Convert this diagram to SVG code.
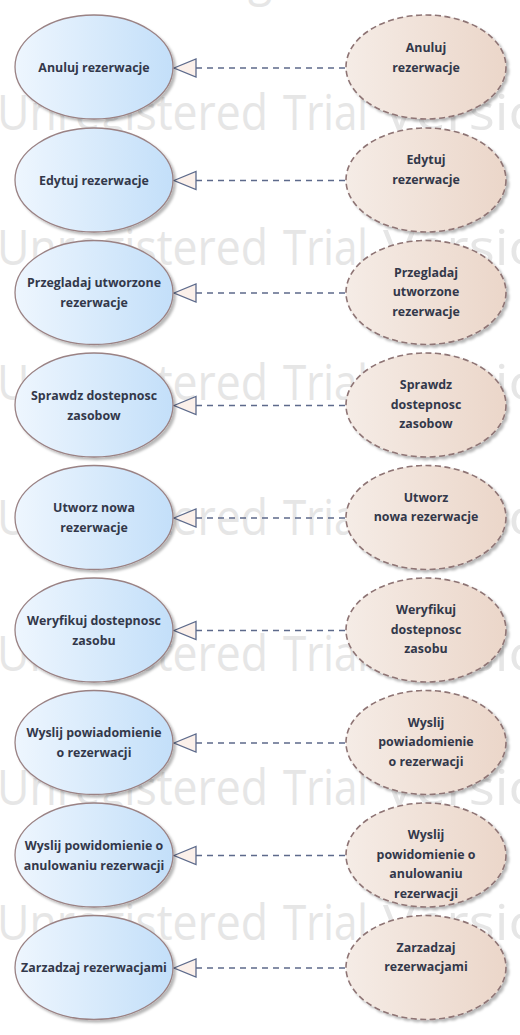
<svg xmlns="http://www.w3.org/2000/svg" width="520" height="1035" viewBox="0 0 520 1035">
<defs>
<linearGradient id="gBlue" x1="0" y1="0" x2="1" y2="0">
<stop offset="0" stop-color="#eef6fe"/>
<stop offset="1" stop-color="#c3dff9"/>
</linearGradient>
<linearGradient id="gTan" x1="0" y1="0" x2="1" y2="0">
<stop offset="0" stop-color="#f5ece6"/>
<stop offset="1" stop-color="#ebd6c9"/>
</linearGradient>
<filter id="sh" x="-10%" y="-10%" width="125%" height="130%">
<feDropShadow dx="2.5" dy="2.5" stdDeviation="1.2" flood-color="#000" flood-opacity="0.28"/>
</filter>
<style>
.wm{font-family:"Open Sans","Liberation Sans",sans-serif;font-size:50px;fill:#e6e6e6}
.uc{fill:url(#gBlue);stroke:#9a8284;stroke-width:1.3;filter:url(#sh)}
.ur{fill:url(#gTan);stroke:#8e7474;stroke-width:1.6;stroke-dasharray:6 3.5;filter:url(#sh)}
.t{font-family:"Open Sans","Liberation Sans",sans-serif;font-size:12.4px;font-weight:700;fill:#33384a;text-anchor:middle}
.ln{stroke:#5d6a8b;stroke-width:1.3;stroke-dasharray:6 5;fill:none}
.ah{fill:#fbf0ea;stroke:#5d6a8b;stroke-width:1.3;stroke-linejoin:miter}
</style>
</defs>
<g id="watermark">
<text class="wm" x="145" y="-5" textLength="271" lengthAdjust="spacingAndGlyphs">Unregistered</text>
<text class="wm" x="-3" y="130" textLength="271" lengthAdjust="spacingAndGlyphs">Unregistered</text><text class="wm" x="283" y="130" textLength="85" lengthAdjust="spacingAndGlyphs">Trial</text><text class="wm" x="383" y="130" textLength="192" lengthAdjust="spacingAndGlyphs">Version</text>
<text class="wm" x="-3" y="265" textLength="271" lengthAdjust="spacingAndGlyphs">Unregistered</text><text class="wm" x="283" y="265" textLength="85" lengthAdjust="spacingAndGlyphs">Trial</text><text class="wm" x="383" y="265" textLength="192" lengthAdjust="spacingAndGlyphs">Version</text>
<text class="wm" x="-3" y="400" textLength="271" lengthAdjust="spacingAndGlyphs">Unregistered</text><text class="wm" x="283" y="400" textLength="85" lengthAdjust="spacingAndGlyphs">Trial</text><text class="wm" x="383" y="400" textLength="192" lengthAdjust="spacingAndGlyphs">Version</text>
<text class="wm" x="-3" y="535" textLength="271" lengthAdjust="spacingAndGlyphs">Unregistered</text><text class="wm" x="283" y="535" textLength="85" lengthAdjust="spacingAndGlyphs">Trial</text><text class="wm" x="383" y="535" textLength="192" lengthAdjust="spacingAndGlyphs">Version</text>
<text class="wm" x="-3" y="671" textLength="271" lengthAdjust="spacingAndGlyphs">Unregistered</text><text class="wm" x="283" y="671" textLength="85" lengthAdjust="spacingAndGlyphs">Trial</text><text class="wm" x="383" y="671" textLength="192" lengthAdjust="spacingAndGlyphs">Version</text>
<text class="wm" x="-3" y="805" textLength="271" lengthAdjust="spacingAndGlyphs">Unregistered</text><text class="wm" x="283" y="805" textLength="85" lengthAdjust="spacingAndGlyphs">Trial</text><text class="wm" x="383" y="805" textLength="192" lengthAdjust="spacingAndGlyphs">Version</text>
<text class="wm" x="-3" y="940" textLength="271" lengthAdjust="spacingAndGlyphs">Unregistered</text><text class="wm" x="283" y="940" textLength="85" lengthAdjust="spacingAndGlyphs">Trial</text><text class="wm" x="383" y="940" textLength="192" lengthAdjust="spacingAndGlyphs">Version</text>
</g>
<g id="connectors">
<line class="ln" x1="196" y1="68" x2="347" y2="68"/><polygon class="ah" points="174,68 196,59 196,77"/>
<line class="ln" x1="196" y1="180.5" x2="347" y2="180.5"/><polygon class="ah" points="174,180.5 196,171.5 196,189.5"/>
<line class="ln" x1="196" y1="293" x2="347" y2="293"/><polygon class="ah" points="174,293 196,284 196,302"/>
<line class="ln" x1="196" y1="405.5" x2="347" y2="405.5"/><polygon class="ah" points="174,405.5 196,396.5 196,414.5"/>
<line class="ln" x1="196" y1="518" x2="347" y2="518"/><polygon class="ah" points="174,518 196,509 196,527"/>
<line class="ln" x1="196" y1="630.5" x2="347" y2="630.5"/><polygon class="ah" points="174,630.5 196,621.5 196,639.5"/>
<line class="ln" x1="196" y1="743" x2="347" y2="743"/><polygon class="ah" points="174,743 196,734 196,752"/>
<line class="ln" x1="196" y1="855.5" x2="347" y2="855.5"/><polygon class="ah" points="174,855.5 196,846.5 196,864.5"/>
<line class="ln" x1="196" y1="968" x2="347" y2="968"/><polygon class="ah" points="174,968 196,959 196,977"/>
</g>
<g id="uc1"><ellipse class="uc" cx="94" cy="67" rx="79" ry="52"/><text class="t" x="94" y="72">Anuluj rezerwacje</text></g>
<g id="uc2"><ellipse class="uc" cx="94" cy="180" rx="79" ry="52"/><text class="t" x="94" y="184.5">Edytuj rezerwacje</text></g>
<g id="uc3"><ellipse class="uc" cx="94" cy="292.5" rx="79" ry="52"/><text class="t" x="94" y="287">Przegladaj utworzone</text><text class="t" x="94" y="307">rezerwacje</text></g>
<g id="uc4"><ellipse class="uc" cx="94" cy="405" rx="79" ry="52"/><text class="t" x="94" y="399.5">Sprawdz dostepnosc</text><text class="t" x="94" y="419.5">zasobow</text></g>
<g id="uc5"><ellipse class="uc" cx="94" cy="517.5" rx="79" ry="52"/><text class="t" x="94" y="512">Utworz nowa</text><text class="t" x="94" y="532">rezerwacje</text></g>
<g id="uc6"><ellipse class="uc" cx="94" cy="630" rx="79" ry="52"/><text class="t" x="94" y="624.5">Weryfikuj dostepnosc</text><text class="t" x="94" y="644.5">zasobu</text></g>
<g id="uc7"><ellipse class="uc" cx="94" cy="742.5" rx="79" ry="52"/><text class="t" x="94" y="737">Wyslij powiadomienie</text><text class="t" x="94" y="757">o rezerwacji</text></g>
<g id="uc8"><ellipse class="uc" cx="94" cy="855" rx="79" ry="52"/><text class="t" x="94" y="849.5">Wyslij powidomienie o</text><text class="t" x="94" y="869.5">anulowaniu rezerwacji</text></g>
<g id="uc9"><ellipse class="uc" cx="94" cy="967.5" rx="79" ry="52"/><text class="t" x="94" y="972">Zarzadzaj rezerwacjami</text></g>
<g id="r1"><ellipse class="ur" cx="426" cy="67" rx="80" ry="52"/><text class="t" x="426" y="51.5">Anuluj</text><text class="t" x="426" y="71.5">rezerwacje</text></g>
<g id="r2"><ellipse class="ur" cx="426" cy="180" rx="80" ry="52"/><text class="t" x="426" y="164">Edytuj</text><text class="t" x="426" y="184">rezerwacje</text></g>
<g id="r3"><ellipse class="ur" cx="426" cy="292.5" rx="80" ry="52"/><text class="t" x="426" y="276.5">Przegladaj</text><text class="t" x="426" y="296">utworzone</text><text class="t" x="426" y="315.5">rezerwacje</text></g>
<g id="r4"><ellipse class="ur" cx="426" cy="405" rx="80" ry="52"/><text class="t" x="426" y="389">Sprawdz</text><text class="t" x="426" y="408.5">dostepnosc</text><text class="t" x="426" y="428">zasobow</text></g>
<g id="r5"><ellipse class="ur" cx="426" cy="517.5" rx="80" ry="52"/><text class="t" x="426" y="501.5">Utworz</text><text class="t" x="426" y="521">nowa rezerwacje</text></g>
<g id="r6"><ellipse class="ur" cx="426" cy="630" rx="80" ry="52"/><text class="t" x="426" y="614">Weryfikuj</text><text class="t" x="426" y="633.5">dostepnosc</text><text class="t" x="426" y="653">zasobu</text></g>
<g id="r7"><ellipse class="ur" cx="426" cy="742.5" rx="80" ry="52"/><text class="t" x="426" y="726.5">Wyslij</text><text class="t" x="426" y="746">powiadomienie</text><text class="t" x="426" y="765.5">o rezerwacji</text></g>
<g id="r8"><ellipse class="ur" cx="426" cy="855" rx="80" ry="52"/><text class="t" x="426" y="839">Wyslij</text><text class="t" x="426" y="858.5">powidomienie o</text><text class="t" x="426" y="878">anulowaniu</text><text class="t" x="426" y="897.5">rezerwacji</text></g>
<g id="r9"><ellipse class="ur" cx="426" cy="967.5" rx="80" ry="52"/><text class="t" x="426" y="951.5">Zarzadzaj</text><text class="t" x="426" y="971">rezerwacjami</text></g>
</svg>
